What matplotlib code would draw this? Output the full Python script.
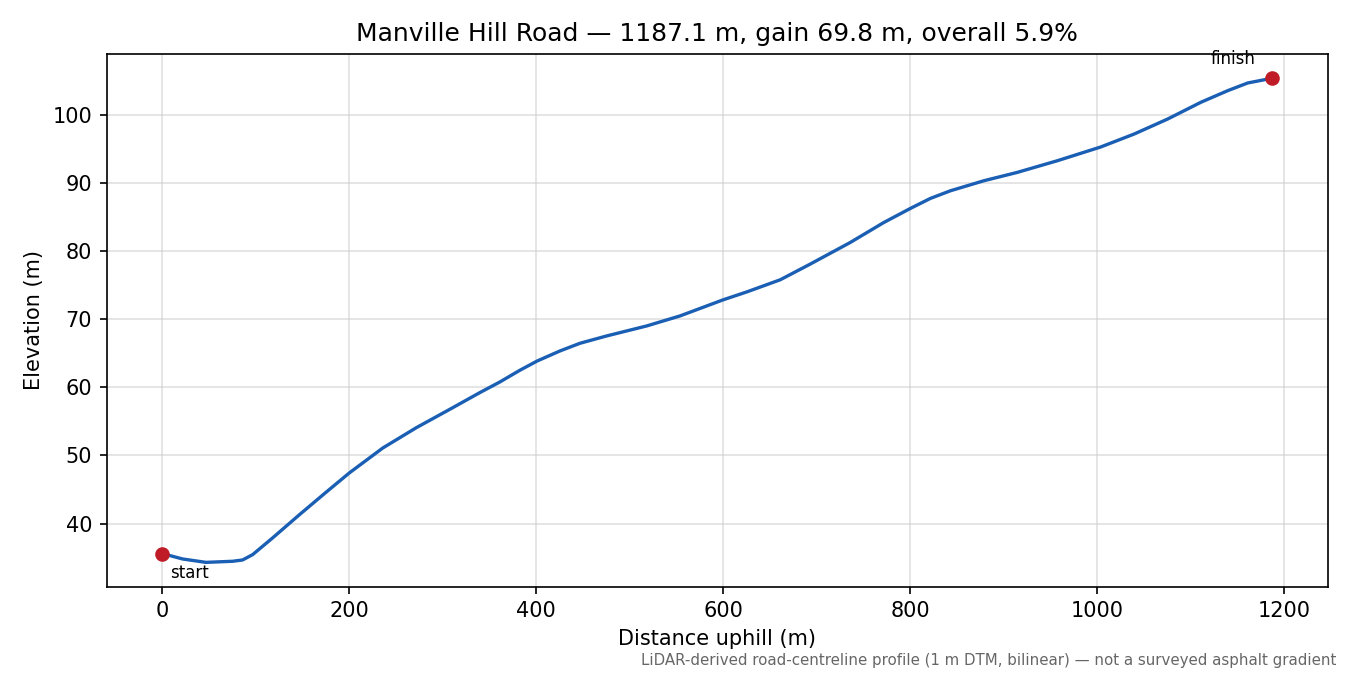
import matplotlib
matplotlib.use("Agg")
import matplotlib.pyplot as plt

# profile (distance uphill, elevation)
distance_m = [0, 21.8, 46.8, 75.3, 86, 96.8, 118.2, 146.8, 175.3, 200.3,
              236, 271.7, 307.4, 339.6, 361, 382.4, 401, 425.3, 446.7,
              475.3, 518.2, 553.8, 599.6, 625.3, 661, 693, 735.9, 771.6,
              800.2, 821.6, 843, 878.7, 914.5, 957.3, 1003.7, 1039.4,
              1075.2, 1110.9, 1139.5, 1160.9, 1187.1]
elevation_m = [35.6, 34.8, 34.3, 34.46, 34.65, 35.44, 37.9, 41.3, 44.6, 47.45,
               51.1, 54.07, 56.76, 59.22, 60.78, 62.5, 63.87, 65.34, 66.47,
               67.55, 69.02, 70.49, 72.84, 74.02, 75.8, 78.1, 81.28, 84.2,
               86.28, 87.75, 88.87, 90.34, 91.57, 93.28, 95.3, 97.2,
               99.4, 101.87, 103.57, 104.7, 105.4]

title = "Manville Hill Road \u2014 1187.1 m, gain 69.8 m, overall 5.9%"
note = ("LiDAR-derived road-centreline profile (1 m DTM, bilinear) "
        "\u2014 not a surveyed asphalt gradient")

fig, ax = plt.subplots(figsize=(9, 4.5), dpi=150)
fig.subplots_adjust(left=0.079, right=0.9835, bottom=0.131, top=0.92)

ax.plot(distance_m, elevation_m, color="#1a5fb4", linewidth=1.6,
        solid_joinstyle="round")
ax.plot([distance_m[0], distance_m[-1]], [elevation_m[0], elevation_m[-1]],
        "o", color="#c01c28", markersize=6, zorder=3)

ax.annotate("start", (distance_m[0], elevation_m[0]), xytext=(4, -5),
            textcoords="offset points", ha="left", va="top", fontsize=8)
ax.annotate("finish", (distance_m[-1], elevation_m[-1]), xytext=(-8, 5),
            textcoords="offset points", ha="right", va="bottom", fontsize=8)

ax.set_title(title, fontsize=12)
ax.set_xlabel("Distance uphill (m)")
ax.set_ylabel("Elevation (m)")
ax.grid(True, color="#cccccc", alpha=0.6, linewidth=0.8)

fig.text(0.99, 0.01, note, ha="right", va="bottom", fontsize=7.2, color="#666666")

fig.savefig("out.png")
